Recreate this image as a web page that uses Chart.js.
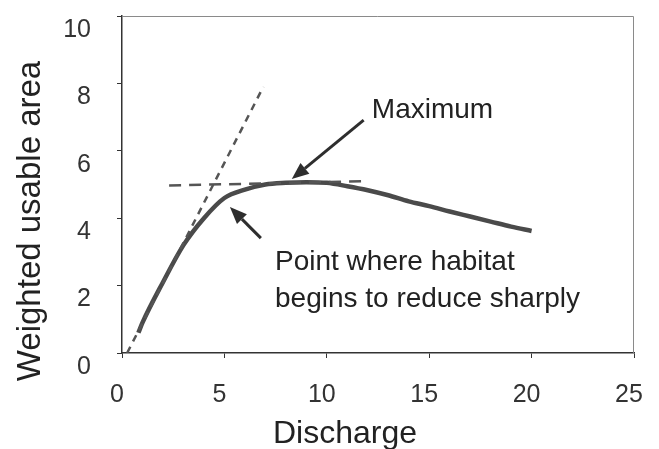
<!DOCTYPE html>
<html>
<head>
<meta charset="utf-8">
<script src="https://cdn.jsdelivr.net/npm/chart.js@4/dist/chart.umd.min.js"></script>
<style>
  html, body { margin: 0; padding: 0; background: #fff; }
  #wrap { width: 659px; height: 449px; position: relative; }
</style>
</head>
<body>
<div id="wrap"><canvas id="c" width="659" height="449"></canvas></div>
<script>
// ---- Data ----
const dischargeX = [0.8, 1, 2, 3, 4, 5, 6, 7, 8, 9, 10, 11, 12, 13, 14, 15, 16, 17, 18, 19, 20];
const wuaY       = [0.6, 0.9, 2.1, 3.2, 4.0, 4.6, 4.85, 5.0, 5.05, 5.07, 5.05, 4.95, 4.83, 4.68, 4.5, 4.36, 4.2, 4.05, 3.9, 3.75, 3.62];
const tangentX   = [0.25, 6.9];
const tangentY   = [0, 7.9];
const plateauX   = [2.3, 11.9];
const plateauY   = [4.97, 5.1];
const xTicks     = [0, 5, 10, 15, 20, 25];
const yTicks     = [0, 2, 4, 6, 8, 10];
const xTitle = 'Discharge';
const yTitle = 'Weighted usable area';
const annotationTexts = ['Maximum', 'Point where habitat', 'begins to reduce sharply'];

const toPts = (xs, ys) => xs.map((x, i) => ({x: x, y: ys[i]}));

// annotation placement (data coordinates; text y = baseline)
const arrows = [
  {from: [11.8, 6.91], to: [8.29, 5.16]},
  {from: [6.78, 3.41], to: [5.27, 4.33]}
];
const labels = [
  {text: annotationTexts[0], x: 12.2, y: 6.97},
  {text: annotationTexts[1], x: 7.47, y: 2.46},
  {text: annotationTexts[2], x: 7.47, y: 1.365}
];

const FONT = '"Liberation Sans", Arial, sans-serif';

const annotatePlugin = {
  id: 'annotate',
  afterDatasetsDraw(chart) {
    const {ctx, scales: {x, y}, chartArea: a} = chart;
    ctx.save();
    // frame top/right
    ctx.strokeStyle = '#8a8a8a';
    ctx.lineWidth = 1;
    ctx.beginPath();
    ctx.moveTo(a.left, a.top + 0.5);
    ctx.lineTo(a.right - 0.5, a.top + 0.5);
    ctx.lineTo(a.right - 0.5, a.bottom);
    ctx.stroke();
    // arrows
    ctx.strokeStyle = '#2e2e2e';
    ctx.fillStyle = '#2e2e2e';
    arrows.forEach(ar => {
      const x0 = x.getPixelForValue(ar.from[0]), y0 = y.getPixelForValue(ar.from[1]);
      const x1 = x.getPixelForValue(ar.to[0]), y1 = y.getPixelForValue(ar.to[1]);
      const ang = Math.atan2(y1 - y0, x1 - x0);
      const hl = 17, hw = 7;
      const bx = x1 - hl * Math.cos(ang), by = y1 - hl * Math.sin(ang);
      ctx.lineWidth = 3;
      ctx.beginPath();
      ctx.moveTo(x0, y0);
      ctx.lineTo(bx, by);
      ctx.stroke();
      ctx.beginPath();
      ctx.moveTo(x1, y1);
      ctx.lineTo(bx + hw * Math.sin(ang), by - hw * Math.cos(ang));
      ctx.lineTo(bx - hw * Math.sin(ang), by + hw * Math.cos(ang));
      ctx.closePath();
      ctx.fill();
    });
    // labels
    ctx.fillStyle = '#222';
    ctx.font = '28px ' + FONT;
    ctx.textAlign = 'left';
    ctx.textBaseline = 'alphabetic';
    labels.forEach(l => {
      ctx.fillText(l.text, x.getPixelForValue(l.x), y.getPixelForValue(l.y));
    });
    // axis titles
    ctx.font = '32px ' + FONT;
    ctx.textAlign = 'center';
    ctx.fillText(xTitle, 345, 443);
    ctx.translate(40, 221);
    ctx.rotate(-Math.PI / 2);
    ctx.font = '33px ' + FONT;
    ctx.fillText(yTitle, 0, 0);
    ctx.restore();
  }
};

const tickFont = {family: FONT, size: 25};

new Chart(document.getElementById('c'), {
  type: 'scatter',
  data: {
    datasets: [
      {
        data: toPts(tangentX, tangentY),
        showLine: true, borderColor: '#555', borderWidth: 2.5,
        borderDash: [7, 6], pointRadius: 0, fill: false
      },
      {
        data: toPts(plateauX, plateauY),
        showLine: true, borderColor: '#555', borderWidth: 2.5,
        borderDash: [12, 8], pointRadius: 0, fill: false
      },
      {
        data: toPts(dischargeX, wuaY),
        showLine: true, borderColor: '#4a4a4a', borderWidth: 4.5,
        cubicInterpolationMode: 'monotone', pointRadius: 0, fill: false
      }
    ]
  },
  options: {
    responsive: false,
    animation: false,
    devicePixelRatio: 1,
    layout: {padding: {top: 16, right: 25, left: 0, bottom: 0}},
    plugins: {legend: {display: false}, tooltip: {enabled: false}},
    scales: {
      x: {
        type: 'linear', min: 0, max: 25,
        afterBuildTicks: s => { s.ticks = xTicks.map(v => ({value: v})); },
        afterFit: s => { s.height = 96; s.paddingLeft = 0; s.paddingRight = 0; },
        ticks: {font: tickFont, color: '#333', padding: 22, labelOffset: -5, maxRotation: 0},
        grid: {display: true, drawOnChartArea: false, drawTicks: true, tickLength: 5, color: '#333'},
        border: {display: true, color: '#333', width: 1.5},
        title: {display: false}
      },
      y: {
        type: 'linear', min: 0, max: 10,
        afterBuildTicks: s => { s.ticks = yTicks.map(v => ({value: v})); },
        afterFit: s => { s.width = 122; s.paddingTop = 0; s.paddingBottom = 0; },
        ticks: {font: tickFont, color: '#333', padding: 26, labelOffset: 14},
        grid: {display: true, drawOnChartArea: false, drawTicks: true, tickLength: 5, color: '#333'},
        border: {display: true, color: '#333', width: 1.5},
        title: {display: false}
      }
    }
  },
  plugins: [annotatePlugin]
});
</script>
</body>
</html>
